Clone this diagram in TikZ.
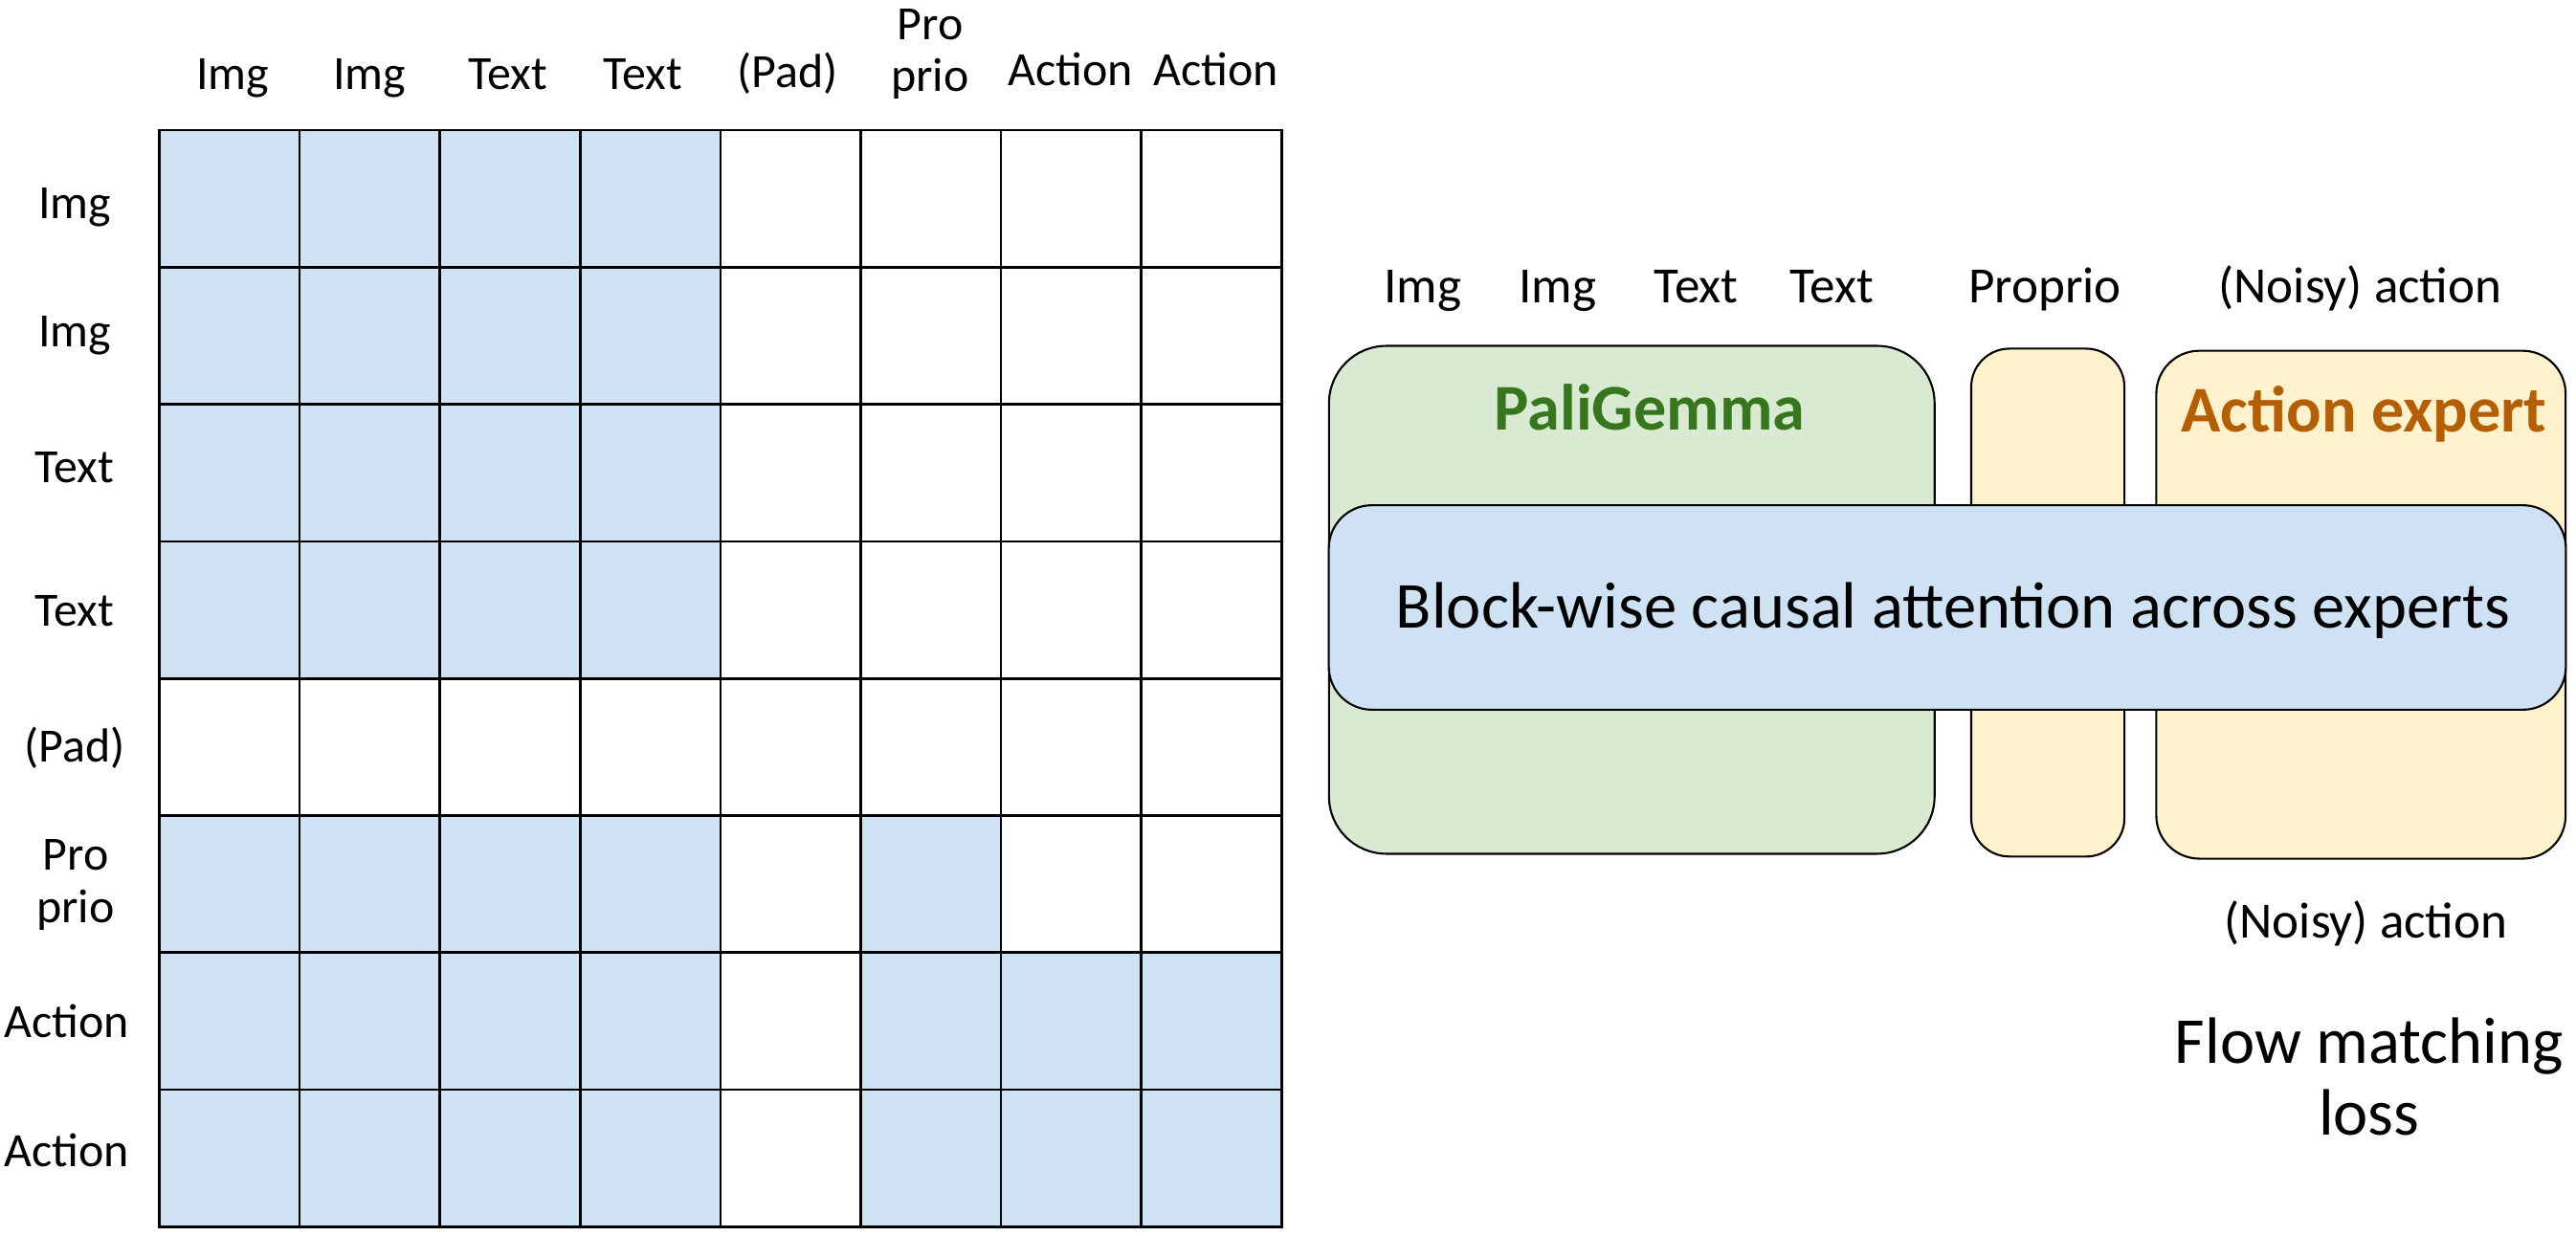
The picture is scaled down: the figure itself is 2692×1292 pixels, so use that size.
\documentclass[tikz,border=0pt]{standalone}
\usepackage{fontspec}
\setmainfont{Carlito}
\usepackage{tikz}
\usetikzlibrary{backgrounds}

\definecolor{attnblue}{HTML}{CFE2F3}
\definecolor{gemmagreen}{HTML}{D9EAD3}
\definecolor{expyellow}{HTML}{FFF2CC}
\definecolor{gemmatext}{HTML}{38761D}
\definecolor{acttext}{HTML}{B45F06}

\begin{document}
\begin{tikzpicture}[
  x=0.01cm,y=-0.01cm,
  every node/.style={scale=1.0},
  cell/.style={rectangle,draw,line width=0.75pt,minimum width=1.466cm,minimum height=1.433cm,inner sep=0},
  tok/.style={font=\fontsize{14.2}{15.6}\selectfont,align=center,inner sep=0,anchor=base},
  side/.style={font=\fontsize{15.1}{16.6}\selectfont,align=center,inner sep=0,anchor=base},
  big/.style={font=\fontsize{19.5}{21.3}\selectfont,align=center,inner sep=0},
  title/.style={font=\fontsize{19.4}{21.3}\selectfont\bfseries,inner sep=0,anchor=base},
  expert/.style={rectangle,draw,line width=0.6pt,minimum height=5.306cm,inner sep=0},
]
\useasboundingbox (0,0) rectangle (2692,1292);

\foreach \r in {1,...,8}
  \foreach \c in {1,...,8}
    \node[cell] (c-\r-\c) at ({166.5+(\c-0.5)*146.6},{136+(\r-0.5)*143.3}) {};

\begin{scope}[on background layer]
\foreach \r/\cl in {1/{1,2,3,4},2/{1,2,3,4},3/{1,2,3,4},4/{1,2,3,4},6/{1,2,3,4,6},7/{1,2,3,4,6,7,8},8/{1,2,3,4,6,7,8}}
  \foreach \c in \cl
    \fill[attnblue] (c-\r-\c.north west) rectangle (c-\r-\c.south east);
\end{scope}

\foreach \c/\lab/\x/\y in {1/Img/243/94,2/Img/386/94,3/Text/531/94,4/Text/672/94,5/(Pad)/823/92,6/{Pro\\prio}/972/96,7/Action/1119/90,8/Action/1271/90}
  \node[tok] (col\c) at (\x,\y) {\lab};

\foreach \r/\lab/\x/\y in {1/Img/78/229,2/Img/78/363,3/Text/78/505,4/Text/78/655,5/(Pad)/78/797,6/{Pro\\prio}/79/964,7/Action/70/1084,8/Action/70/1219}
  \node[tok] (row\r) at (\x,\y) {\lab};

\node[expert,fill=gemmagreen,minimum width=6.325cm,rounded corners=6mm] (gemma) at (1705.25,627) {};
\node[expert,fill=expyellow,minimum width=1.6cm,rounded corners=4mm] (proprio) at (2140,629.9) {};
\node[expert,fill=expyellow,minimum width=4.275cm,rounded corners=4.5mm] (actexp) at (2467.25,632.1) {};
\node[expert,fill=attnblue,minimum width=12.92cm,minimum height=2.136cm,rounded corners=4.5mm] (blockattn) at (2035,635) {};
\node[big,anchor=base] (blocktext) at (2041,656.7) {Block-wise causal attention across experts};

\node[title,text=gemmatext] (gemmaname) at (1724,450) {PaliGemma};
\node[title,text=acttext] (actname) at (2470.6,451.7) {Action expert};

\foreach \n/\lab/\x in {1/Img/1486.7,2/Img/1627.8,3/Text/1772.8,4/Text/1914.5,5/Proprio/2137,6/(Noisy) action/2466.5}
  \node[side] (in\n) at (\x,317) {\lab};

\node[side] (noisyout) at (2472.5,980) {(Noisy) action};
\node[big,anchor=base] (flowloss) at (2475.8,1186.7) {Flow matching\\loss};
\end{tikzpicture}
\end{document}
